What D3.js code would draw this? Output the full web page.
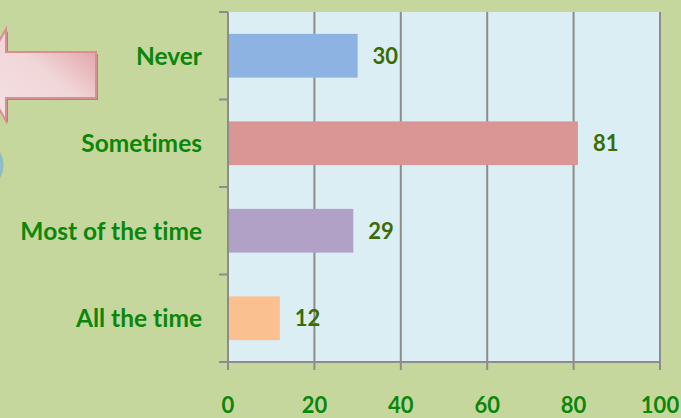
<!DOCTYPE html>
<html><head><meta charset="utf-8">
<script src="https://cdn.jsdelivr.net/npm/d3@7"></script>
<style>
html,body{margin:0;padding:0;background:#c6d79d;}
svg{display:block;}
text{font-variant-ligatures:none;font-feature-settings:"liga" 0;}
</style></head>
<body>
<svg id="chart" width="681" height="418"></svg>
<script>
const categories = ["Never", "Sometimes", "Most of the time", "All the time"];
const values = [30, 81, 29, 12];
const barColors = ["#8db3e2", "#d99694", "#b2a1c7", "#fac090"];
const xTicks = [0, 20, 40, 60, 80, 100];

const W = 681, H = 418;
const plot = {left: 228, right: 660, top: 12, bottom: 362};
const svg = d3.select("#chart");
const font = "Lato, 'Open Sans', sans-serif";

svg.append("rect").attr("width", W).attr("height", H).attr("fill", "#c6d79d");

// decorative shapes
const defs = svg.append("defs");
const g1 = defs.append("linearGradient").attr("id","pinkG").attr("x1","0").attr("y1","1").attr("x2","1").attr("y2","0");
g1.append("stop").attr("offset","0").attr("stop-color","#f6e3e4");
g1.append("stop").attr("offset","0.55").attr("stop-color","#f1d6d8");
g1.append("stop").attr("offset","1").attr("stop-color","#dc9599");
const g2 = defs.append("radialGradient").attr("id","blueG");
g2.append("stop").attr("offset","0.6").attr("stop-color","#b9dfe6");
g2.append("stop").attr("offset","1").attr("stop-color","#7fbecd");

svg.append("ellipse").attr("cx", -37).attr("cy", 165).attr("rx", 40).attr("ry", 32)
  .attr("fill", "url(#blueG)").attr("stroke", "#9ab7b0").attr("stroke-width", 1);

const arrowPts = [[-20,75],[6,29],[6,52],[96,52],[96,98],[6,98],[6,121]];
svg.append("polygon").attr("points", arrowPts.map(p=>[p[0]+2,p[1]+2].join(",")).join(" "))
  .attr("fill", "#a08c6c");
svg.append("polygon").attr("points", arrowPts.map(p=>p.join(",")).join(" "))
  .attr("fill", "url(#pinkG)").attr("stroke", "#d98e93").attr("stroke-width", 2);

// scales
const x = d3.scaleLinear().domain([0, 100]).range([plot.left, plot.right]);
const y = d3.scaleBand().domain(categories).range([plot.top, plot.bottom]).paddingInner(0.5).paddingOuter(0.25);
const band = d3.scaleBand().domain(categories).range([plot.top, plot.bottom]);

svg.append("rect").attr("x", plot.left).attr("y", plot.top)
  .attr("width", plot.right - plot.left).attr("height", plot.bottom - plot.top)
  .attr("fill", "#dbeef3");

// gridlines
svg.append("g").selectAll("line").data(xTicks).join("line")
  .attr("x1", d => x(d)).attr("x2", d => x(d))
  .attr("y1", plot.top).attr("y2", plot.bottom + 8)
  .attr("stroke", "#8c8c8c").attr("stroke-width", 2);

// y axis line & ticks
const yEdges = categories.map(c => band(c)).concat([plot.bottom]);
svg.append("line").attr("x1", plot.left).attr("x2", plot.left).attr("y1", plot.top).attr("y2", plot.bottom)
  .attr("stroke", "#8c8c8c").attr("stroke-width", 2);
svg.append("g").selectAll("line").data(yEdges).join("line")
  .attr("x1", plot.left - 9).attr("x2", plot.left).attr("y1", d => d).attr("y2", d => d)
  .attr("stroke", "#8c8c8c").attr("stroke-width", 2);
// x axis line
svg.append("line").attr("x1", plot.left - 9).attr("x2", plot.right).attr("y1", plot.bottom).attr("y2", plot.bottom)
  .attr("stroke", "#8c8c8c").attr("stroke-width", 2);

// bars
svg.append("g").selectAll("rect").data(categories).join("rect")
  .attr("x", x(0) + 1).attr("y", d => y(d))
  .attr("width", (d,i) => x(values[i]) - x(0) - 1).attr("height", y.bandwidth())
  .attr("fill", (d,i) => barColors[i]);

// value labels
svg.append("g").selectAll("text").data(categories).join("text")
  .attr("x", (d,i) => x(values[i]) + 15).attr("y", d => y(d) + y.bandwidth()/2)
  .attr("dy", "0.36em").text((d,i) => values[i])
  .attr("font-family", font).attr("font-weight", "bold").attr("font-size", 22).attr("fill", "#3b6b04");

// category labels
svg.append("g").selectAll("text").data(categories).join("text")
  .attr("x", 202).attr("y", d => y(d) + y.bandwidth()/2)
  .attr("dy", "0.36em").attr("text-anchor", "end").text(d => d)
  .attr("font-family", font).attr("font-weight", "bold").attr("font-size", 24.5).attr("fill", "#0a870a");

// x tick labels
svg.append("g").selectAll("text").data(xTicks).join("text")
  .attr("x", d => x(d)).attr("y", 413).attr("text-anchor", "middle").text(d => d)
  .attr("font-family", font).attr("font-weight", "bold").attr("font-size", 22).attr("fill", "#0a870a");
</script>
</body></html>
